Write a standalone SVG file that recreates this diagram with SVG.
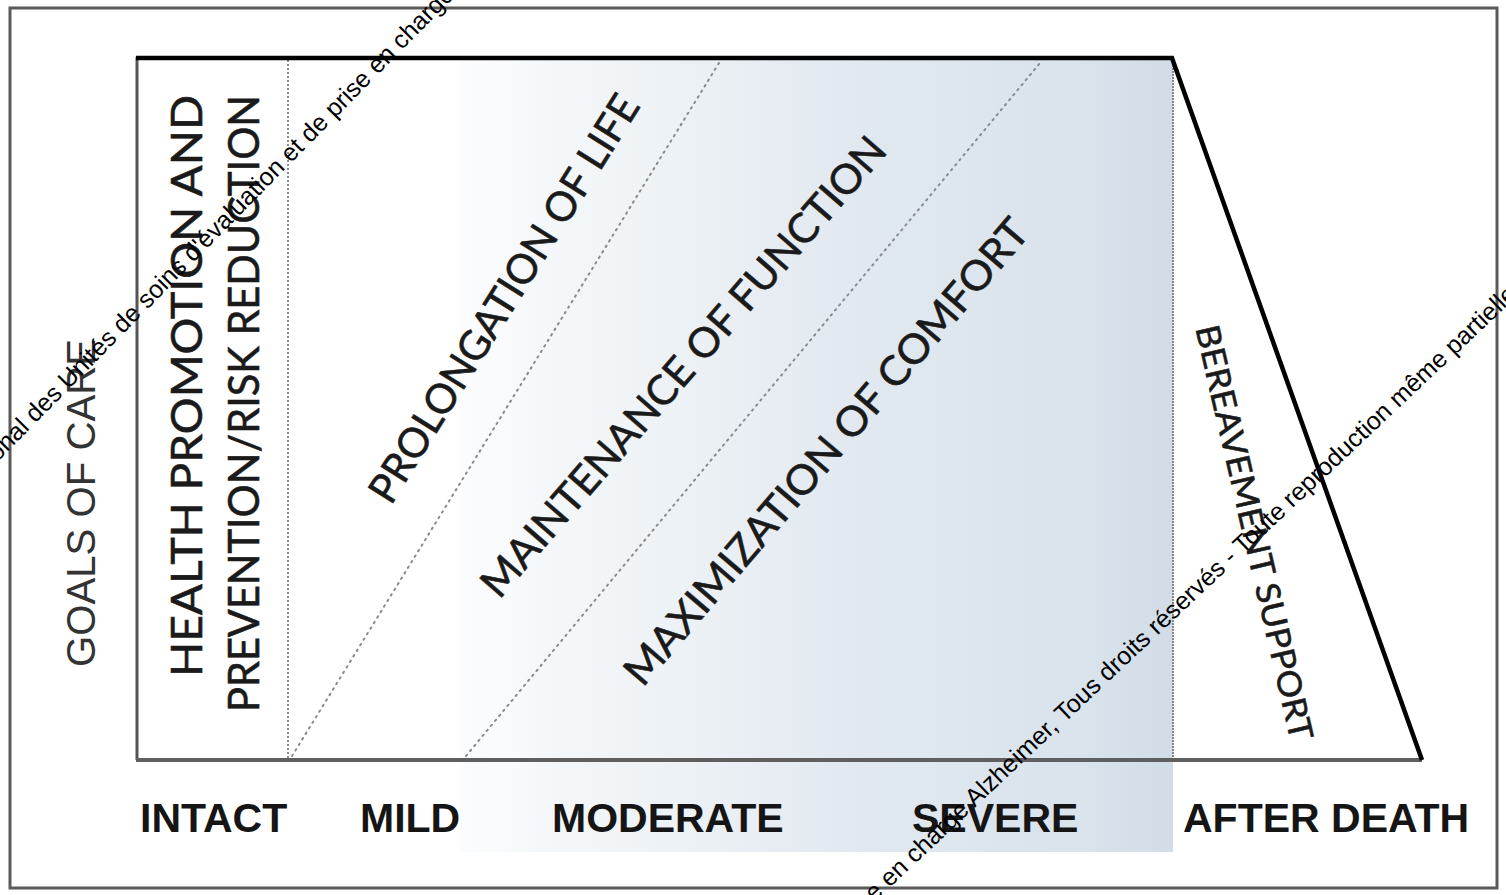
<svg xmlns="http://www.w3.org/2000/svg" width="1506" height="895" viewBox="0 0 1506 895">
<defs>
<linearGradient id="bg" gradientUnits="userSpaceOnUse" x1="460" y1="0" x2="1173" y2="0">
<stop offset="0" stop-color="#fbfcfd"/>
<stop offset="0.2" stop-color="#f1f5f8"/>
<stop offset="0.41" stop-color="#e8eef3"/>
<stop offset="0.53" stop-color="#e2e9f0"/>
<stop offset="0.88" stop-color="#d9e3ec"/>
<stop offset="1" stop-color="#d1dce7"/>
</linearGradient>
<style>
.lbl{font-family:"Liberation Sans",Arial,sans-serif;font-weight:bold;font-size:41px;fill:#151515}
.cal{font-family:Lato,"Open Sans",sans-serif;fill:#1a1a1a;stroke:#1a1a1a;stroke-width:0.6}
.wm{font-family:"Liberation Sans",Arial,sans-serif;font-size:25px;fill:#000}
.dot{fill:none;stroke:#8a8a8a;stroke-width:2;stroke-dasharray:1.5 5;stroke-linecap:round}
</style>
</defs>
<rect width="1506" height="895" fill="#ffffff"/>
<g id="frame">
<rect x="10" y="8" width="1487" height="880" fill="none" stroke="#5a5a5a" stroke-width="3"/>
</g>
<rect id="severity-shading" x="460" y="59" width="713" height="793" fill="url(#bg)"/>
<g id="connectors">
<line x1="137" y1="57" x2="137" y2="760" stroke="#555" stroke-width="3"/>
<line x1="136" y1="760" x2="1422" y2="760" stroke="#5f5f5f" stroke-width="4"/>
<line x1="288" y1="60" x2="288" y2="758" stroke="#444" stroke-width="1.2" stroke-dasharray="2 2"/>
<line x1="1173" y1="62" x2="1173" y2="758" stroke="#888" stroke-width="2" stroke-dasharray="2 1"/>
<line class="dot" x1="292" y1="756" x2="719" y2="63"/>
<line class="dot" x1="466" y1="756" x2="1040" y2="63"/>
<polyline points="136,58 1172,58 1422,760" fill="none" stroke="#000" stroke-width="4.5" stroke-linejoin="miter"/>
</g>
<g id="goals-of-care">
<text x="95" y="667" transform="rotate(-90 95 667)" font-family="Liberation Sans, Arial, sans-serif" font-size="41" fill="#333" textLength="328" lengthAdjust="spacingAndGlyphs">GOALS OF CARE</text>
</g>
<g id="health-promotion">
<text class="cal" x="202" y="95" transform="rotate(-90 202 95)" font-size="42" text-anchor="end" textLength="582" lengthAdjust="spacingAndGlyphs">HEALTH PROMOTION AND</text>
<text class="cal" x="259" y="95" transform="rotate(-90 259 95)" font-size="42" text-anchor="end" textLength="617" lengthAdjust="spacingAndGlyphs">PREVENTION/RISK REDUCTION</text>
</g>
<g id="prolongation">
<text class="cal" x="516" y="306" transform="rotate(-58 516 306)" font-size="41" text-anchor="middle" textLength="472" lengthAdjust="spacingAndGlyphs">PROLONGATION OF LIFE</text>
</g>
<g id="maintenance">
<text class="cal" x="694" y="376" transform="rotate(-49 694 376)" font-size="41" text-anchor="middle" textLength="594" lengthAdjust="spacingAndGlyphs">MAINTENANCE OF FUNCTION</text>
</g>
<g id="maximization">
<text class="cal" x="837" y="461" transform="rotate(-49.5 837 461)" font-size="41" text-anchor="middle" textLength="598" lengthAdjust="spacingAndGlyphs">MAXIMIZATION OF COMFORT</text>
</g>
<g id="bereavement">
<text class="cal" x="1243" y="535" transform="rotate(77 1243 535)" font-size="33" text-anchor="middle" textLength="425" lengthAdjust="spacingAndGlyphs">BEREAVEMENT SUPPORT</text>
</g>
<g id="stages">
<text class="lbl" x="140" y="832">INTACT</text>
<text class="lbl" x="360" y="832">MILD</text>
<text class="lbl" x="552" y="832">MODERATE</text>
<text class="lbl" x="912" y="832">SEVERE</text>
<text class="lbl" x="1183" y="832">AFTER DEATH</text>
</g>
<g id="watermark">
<text class="wm" x="-34" y="494" transform="rotate(-45.5 -34 494)">National des Unités de soins d'évaluation et de prise en charge</text>
<text class="wm" x="845" y="930" transform="rotate(-43.3 845 930)" font-size="26">prise en charge Alzheimer, Tous droits réservés - Toute reproduction même partielle</text>
</g>
</svg>
